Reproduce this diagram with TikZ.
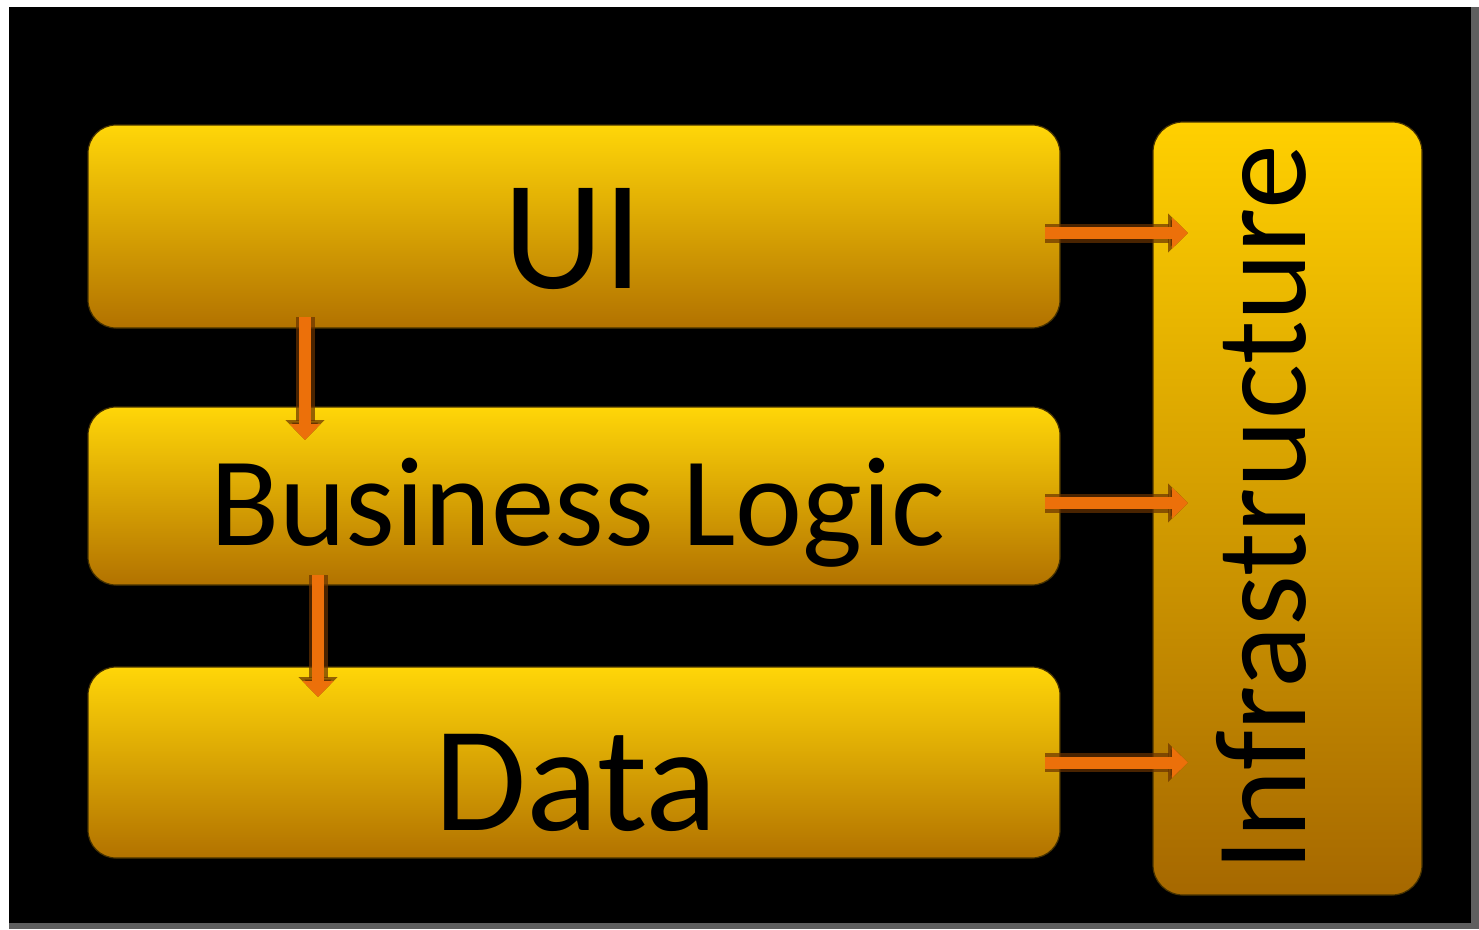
\documentclass[tikz,border=0pt]{standalone}
\usepackage{fontspec}
\setmainfont{Carlito}
\usetikzlibrary{arrows.meta,calc}

\definecolor{layertop}{RGB}{255,214,8}
\definecolor{layermid}{RGB}{250,182,0}
\definecolor{layerbot}{RGB}{178,114,0}
\definecolor{infratop}{RGB}{255,208,0}
\definecolor{inframid}{RGB}{228,156,0}
\definecolor{infrabot}{RGB}{166,104,0}
\definecolor{edgebrown}{RGB}{70,50,0}
\definecolor{flowcore}{RGB}{236,112,10}
\definecolor{flowedge}{RGB}{105,50,0}
\definecolor{framegray}{RGB}{95,95,95}

\tikzset{
  layer/.style={rounded corners=28pt, draw=edgebrown, line width=1.2pt,
    top color=layertop, middle color=layermid, bottom color=layerbot,
    inner sep=0pt, outer sep=0pt},
  infrabox/.style={rounded corners=30pt, draw=edgebrown, line width=1.2pt,
    top color=infratop, middle color=inframid, bottom color=infrabot,
    inner sep=0pt, outer sep=0pt},
  caption/.style={inner sep=0pt, anchor=base, text=black},
  flow/.style={draw=flowcore, line width=12pt,
    -{Triangle[length=16pt,width=30pt]},
    preaction={draw=flowedge, draw opacity=0.7, line width=19pt,
      -{Triangle[length=20pt,width=38pt]}}}
}

\begin{document}
\begin{tikzpicture}[x=1pt,y=-1pt]
  % canvas and black frame
  \fill[white] (0,0) rectangle (1479,929);
  \fill[framegray] (9,922) rectangle (1479,929);
  \fill[framegray] (1470,7) rectangle (1479,929);
  \fill[black] (9,7) rectangle (1471,923);
  \useasboundingbox (0,0) rectangle (1479,929);

  % stacked layers
  \node[layer, minimum width=972pt, minimum height=203pt] (ui)   at (574,226.5) {};
  \node[layer, minimum width=972pt, minimum height=178pt] (bl)   at (574,496)   {};
  \node[layer, minimum width=972pt, minimum height=191pt] (data) at (574,762.5) {};
  \node[infrabox, minimum width=269pt, minimum height=773pt] (infra) at (1287.5,508.5) {};

  % layer captions
  \node[caption, font=\fontsize{156}{160}\selectfont] (uitext)   at (573,288) {UI};
  \node[caption, font=\fontsize{127}{130}\selectfont] (bltext)   at (578,545) {Business Logic};
  \node[caption, font=\fontsize{150}{155}\selectfont] (datatext) at (576,830) {Data};
  \node[caption, rotate=90, font=\fontsize{130}{134}\selectfont] (infratext) at (1305,508) {Infrastructure};

  % dependencies between layers
  \draw[flow] ($(ui.south west)+(217,-11)$) -- ($(bl.north west)+(217,33)$);
  \draw[flow] ($(bl.south west)+(230,-10)$) -- ($(data.north west)+(230,30)$);

  % dependencies on the infrastructure
  \draw[flow] ($(ui.east)+(-15,6.5)$)  -- ($(ui.east -| infra.west)+(35,6.5)$);
  \draw[flow] ($(bl.east)+(-15,7)$)    -- ($(bl.east -| infra.west)+(35,7)$);
  \draw[flow] ($(data.east)+(-15,0)$)  -- ($(data.east -| infra.west)+(35,0)$);
\end{tikzpicture}
\end{document}
